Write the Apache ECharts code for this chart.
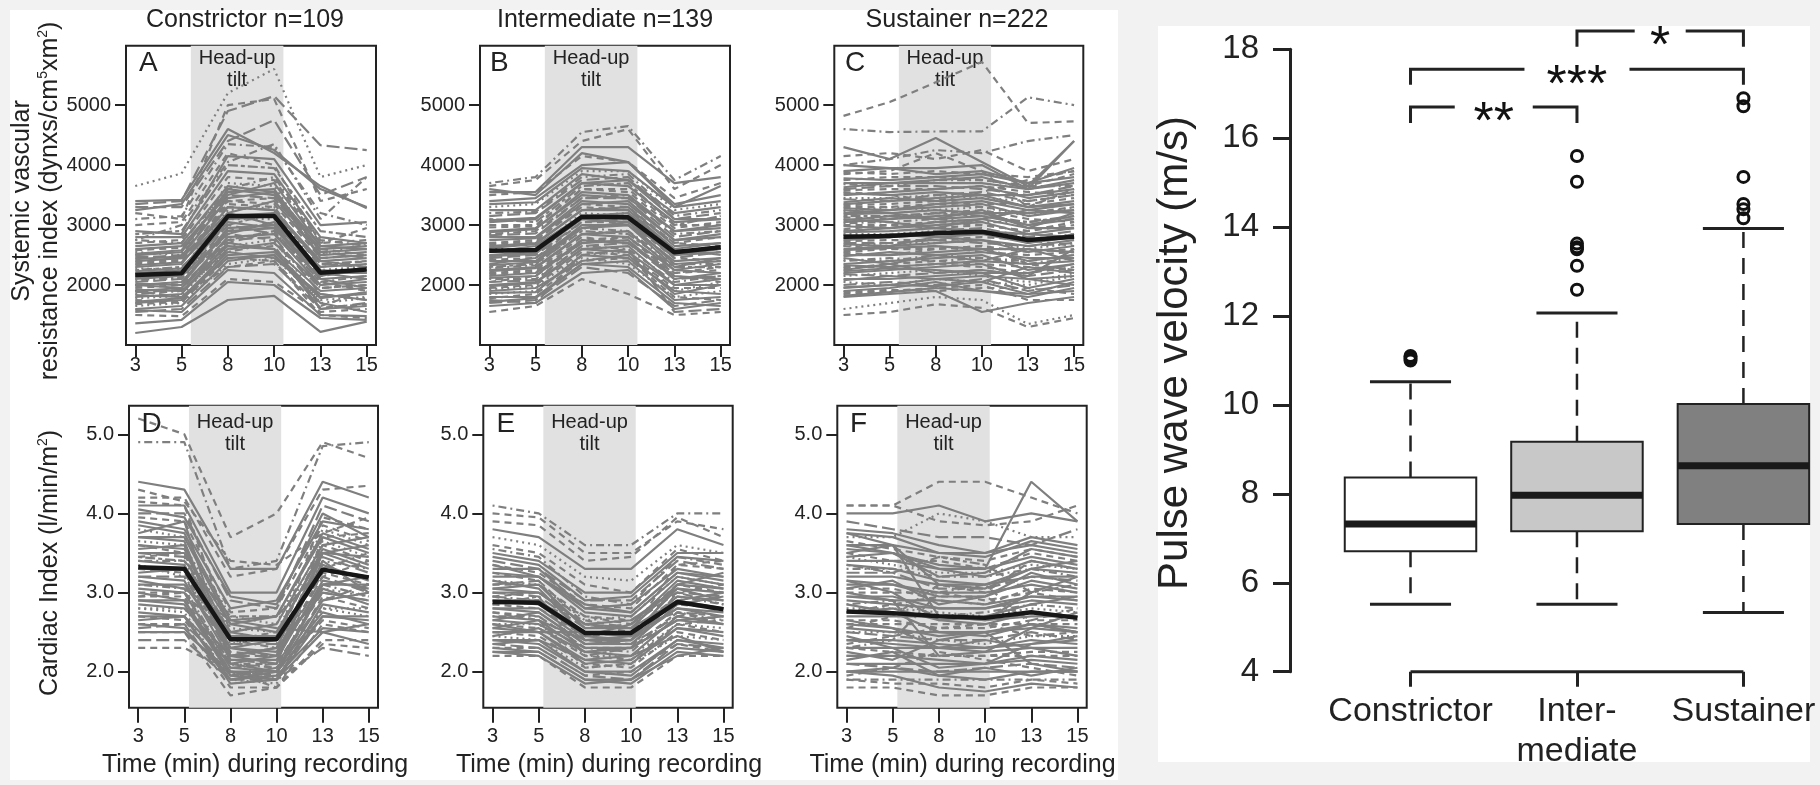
<!DOCTYPE html>
<html><head><meta charset="utf-8">
<script src="https://cdn.jsdelivr.net/npm/echarts@6/dist/echarts.min.js"></script>
<style>
html,body{margin:0;padding:0;background:#f2f2f2;}
#wrap{position:relative;width:1820px;height:785px;overflow:hidden;}
.pane{position:absolute;background:#fff;}
#chart{position:absolute;left:0;top:0;width:1820px;height:785px;}
</style></head><body>
<div id="wrap">
<div class="pane" style="left:10px;top:10px;width:1108px;height:770px"></div>
<div class="pane" style="left:1158px;top:26px;width:652px;height:736px"></div>
<div id="chart"></div>
</div>
<script>
// ---------- DATA ----------
const timeLabels = ['3','5','8','10','13','15'];
const svriTicks = [2000,3000,4000,5000];
const ciTicks = [2,3,4,5];
const panelTitles = ['Constrictor n=109','Intermediate n=139','Sustainer n=222'];
const panelLetters = ['A','B','C','D','E','F'];

// Systemic vascular resistance index, individual subjects (t=3,5,8,10,13,15)
const svriConstrictor = [
[1200,1300,1750,1820,1220,1390],[1360,1420,2050,2000,1450,1420],[1500,1480,2100,2050,1550,1600],
[1550,1600,2300,2350,1600,1700],[1600,1650,2400,2500,1700,1550],[1650,1700,2350,2450,1750,1800],
[1700,1750,2500,2550,1800,1850],[1750,1700,2600,2650,1650,1900],[1800,1850,2700,2600,1900,1950],
[1850,1900,2550,2700,1950,2000],[1900,1950,2800,2850,2000,2100],[1950,2000,2700,2900,2050,1900],
[2000,2050,2900,2950,2100,2150],[2050,2100,3000,2850,2150,2250],[2100,2150,2850,3050,2200,2200],
[2150,2100,3100,3100,2250,2300],[2200,2250,3200,3000,2300,2350],[2250,2300,3000,3200,2350,2400],
[2300,2350,3300,3250,2400,2300],[2350,2400,3400,3350,2450,2500],[2400,2450,3200,3400,2500,2550],
[2450,2500,3500,3450,2550,2450],[2500,2550,3600,3500,2600,2650],[2550,2500,3700,3650,2500,2700],
[2600,2650,3500,3700,2650,2600],[2700,2750,3800,3750,2700,2750],[2800,2800,3900,3850,2800,2700],
[2850,2900,4000,3950,2900,2800],[2900,2850,4150,4100,3000,3050],[3000,3050,4200,4000,2700,2950],
[3100,3150,4350,4300,3200,3000],[3250,3350,4500,4250,3600,3300],[3400,3420,4600,4200,3650,3280],
[3300,3300,4400,4750,3500,3800],[3350,3400,4900,5150,4330,4250],[3650,3860,5200,5600,3800,4000],
[3200,3100,5000,5100,3400,3600],[2750,3000,4050,4350,3100,3800],[1900,1800,2300,2400,1500,1450],
[2000,1950,2650,2600,1600,1650],
[1580,1550,2250,2200,1500,1480],[1680,1720,2450,2400,1620,1680],[1720,1780,2550,2450,1850,1750],
[1780,1820,2650,2750,1700,1780],[1830,1800,2450,2500,1780,1880],[1880,1920,2750,2800,1850,1750],
[1920,1900,2600,2700,2000,2050],[1980,2050,2850,2750,1950,2000],[2020,2000,2950,3000,2100,1950],
[2080,2120,2750,2900,2050,2150],[2120,2180,3050,2950,2200,2100],[2180,2200,2900,3050,2150,2300],
[2230,2280,3100,3150,2250,2200],[2280,2250,3250,3300,2200,2350],[2330,2380,3150,3200,2400,2450],
[2380,2420,3350,3300,2300,2400],[2430,2480,3450,3550,2450,2500],[2480,2450,3300,3250,2350,2300],
[2520,2580,3550,3600,2550,2600],[2580,2620,3400,3450,2600,2500],[2650,2700,3650,3550,2650,2700],
[2750,2700,3600,3800,2750,2650]];
const svriConstrictorDash = 'ssdlsosdsasdslsostsdslsosdstsdassllodads' + 'sdsoslsdsasdsosdslsdsa';

const svriIntermediate = [
[1550,1650,2100,1850,1500,1550],[1650,1700,2200,2250,1600,1700],[1700,1750,2300,2200,1650,1750],
[1800,1800,2350,2400,1750,1800],[1850,1900,2450,2350,1800,1900],[1900,1950,2400,2500,1850,2000],
[1950,2000,2550,2500,1950,1950],[2000,2050,2600,2650,2000,2100],[2100,2100,2650,2600,2050,2150],
[2150,2200,2700,2750,2100,2200],[2200,2250,2800,2700,2200,2250],[2250,2300,2850,2900,2250,2350],
[2300,2350,2900,2850,2300,2300],[2400,2400,3000,3000,2400,2450],[2450,2500,3050,3100,2450,2550],
[2500,2550,3100,3050,2500,2600],[2600,2600,3200,3150,2550,2650],[2650,2700,3250,3300,2650,2700],
[2700,2750,3300,3250,2700,2800],[2800,2800,3400,3350,2750,2850],[2850,2900,3450,3500,2850,2900],
[2900,2950,3500,3450,2900,3000],[3000,3000,3600,3550,2950,3050],[3050,3100,3700,3650,3050,3100],
[3150,3200,3750,3800,3100,3200],[3250,3250,3850,3750,3200,3300],[3300,3350,3900,3900,3250,3350],
[3400,3450,4000,4050,3350,3500],[3500,3550,4150,4050,3450,3700],[3550,3550,4300,4300,3700,3800],
[3650,3750,4400,4600,3600,4000],[3700,3800,4550,4650,3750,4150],[3600,3500,4200,4050,3300,3650],
[2350,2450,2950,3050,2350,2400],[2050,2150,2700,2800,2150,2050],[1750,1700,2500,2600,1550,1600],
[2550,2650,3150,3200,2600,2500],[3100,3050,3650,3700,3000,3150],
[1720,1780,2350,2300,1700,1650],[1780,1850,2400,2450,1800,1750],[1870,1880,2500,2450,1900,1850],
[1930,1980,2500,2550,1900,2050],[1980,2030,2600,2550,2000,2000],[2050,2080,2650,2700,2100,2150],
[2120,2150,2750,2700,2150,2100],[2180,2220,2750,2800,2200,2300],[2230,2280,2850,2800,2250,2200],
[2280,2330,2950,2900,2350,2350],[2330,2380,2950,3000,2300,2450],[2420,2450,3050,3050,2450,2400],
[2480,2520,3150,3100,2500,2550],[2560,2580,3150,3200,2550,2600],[2620,2680,3250,3250,2600,2700],
[2680,2720,3350,3300,2700,2650],[2750,2780,3350,3400,2750,2800],[2830,2860,3450,3450,2800,2900],
[2880,2930,3550,3500,2900,2950],[2960,2980,3600,3600,3000,3000],[3080,3120,3700,3750,3100,3100],
[3200,3220,3800,3850,3150,3250],[3350,3380,3950,3900,3300,3400]];
const svriIntermediateDash = 'dslsosdsasdstslsosdsasdslsosdsdassdlst' + 'sdsoslsdsasdsosdslsdsas';

const svriSustainer = [
[1500,1550,1680,1620,1300,1450],[1600,1700,1800,1750,1350,1500],[1800,1850,1900,1550,1700,1800],
[1850,1900,1950,2000,1750,1750],[1900,1950,2050,1900,1800,1950],[2000,2050,2000,2100,1900,2000],
[2100,2100,2150,2200,1950,2100],[2150,2200,2250,2150,2050,2200],[2200,2250,2300,2350,2100,2150],
[2300,2300,2350,2300,2200,2300],[2350,2400,2450,2500,2250,2350],[2400,2450,2400,2450,2350,2450],
[2500,2500,2550,2600,2400,2500],[2550,2600,2650,2550,2500,2550],[2600,2650,2700,2750,2550,2650],
[2700,2700,2750,2700,2650,2700],[2750,2800,2850,2900,2700,2800],[2850,2850,2900,2850,2750,2850],
[2900,2950,3000,3050,2850,2950],[3000,3000,3050,3000,2900,3000],[3050,3100,3150,3200,3000,3100],
[3150,3150,3200,3150,3050,3150],[3200,3250,3300,3350,3150,3250],[3300,3300,3350,3300,3200,3300],
[3350,3400,3450,3500,3300,3400],[3450,3450,3500,3450,3400,3500],[3500,3550,3600,3650,3450,3550],
[3600,3650,3650,3600,3500,3650],[3700,3700,3750,3800,3600,3700],[3750,3800,3800,3750,3650,3850],
[3900,3950,3850,3900,3700,3950],[4000,3950,3950,4000,3600,4400],[4300,4100,4450,4050,3650,4400],
[4150,4200,4100,4250,3900,4100],[4000,4100,4250,4200,4400,4500],[4820,5050,5380,5720,4700,4730],
[4600,4550,4560,4560,5130,5000],[3850,3900,4200,3900,3300,3600],[2250,2350,2200,2250,2150,2600],
[2650,2600,2600,2650,2350,2250],[3100,3050,2950,3100,3250,3350],[2450,2350,2500,2400,2600,2400],
[3550,3500,3400,3550,3750,3900],[1950,2000,2100,2050,2300,2200],[3250,3200,3100,3250,2950,3200],
[1820,1880,1950,1900,1850,1900],[1880,1920,1900,1950,1950,1850],[1960,2000,1980,2050,1850,2050],
[2050,2000,2100,2050,2000,2150],[2080,2150,2100,2150,2100,2000],[2180,2150,2200,2250,2150,2250],
[2230,2280,2250,2200,2200,2350],[2280,2350,2400,2350,2300,2250],[2330,2300,2350,2400,2350,2400],
[2420,2400,2500,2450,2400,2500],[2480,2550,2500,2550,2450,2450],[2530,2500,2600,2650,2550,2600],
[2580,2620,2650,2600,2600,2550],[2650,2700,2700,2750,2600,2700],[2680,2650,2800,2750,2650,2750],
[2730,2750,2750,2800,2750,2650],[2780,2850,2800,2850,2700,2850],[2830,2800,2900,2950,2800,2900],
[2880,2900,2950,2900,2850,2800],[2930,3000,2950,3000,2900,3050],[2980,2950,3050,3100,2950,2950],
[3030,3050,3100,3050,3050,3100],[3080,3150,3100,3150,3000,3150],[3130,3100,3200,3250,3100,3050],
[3180,3200,3250,3200,3200,3250],[3230,3300,3250,3300,3150,3300],[3280,3250,3350,3400,3250,3200],
[3330,3350,3400,3350,3350,3450],[3380,3450,3400,3450,3300,3350],[3430,3400,3500,3550,3400,3500],
[3530,3500,3550,3500,3500,3600],[3580,3600,3600,3650,3550,3500],[3630,3700,3700,3700,3600,3750],
[3680,3650,3750,3750,3650,3650],[3780,3750,3800,3850,3700,3800],[3880,3850,3900,3850,3800,3900]];
const svriSustainerDash = 'dosdslsosdsasdslsosdstsdsoslsdsssdadadsdssdss' + 'sdsoslsdsasdsosdslsdsasdsosdslsdsasd';

// Cardiac index, individual subjects
const ciConstrictor = [
[5.2,5.0,3.7,4.0,4.9,4.7],[4.9,4.9,3.3,3.4,4.85,4.9],[4.4,4.3,3.3,3.3,4.4,4.2],[4.2,4.2,3.2,3.3,4.3,4.35],
[4.1,4.1,3.0,3.0,4.2,4.0],[4.0,4.0,2.9,2.8,4.1,3.9],[3.9,3.8,2.8,2.9,3.9,3.8],[3.8,3.7,2.7,2.6,3.8,3.6],
[3.7,3.7,2.6,2.7,3.7,3.5],[3.6,3.5,2.5,2.4,3.6,3.4],[3.5,3.5,2.6,2.5,3.5,3.6],[3.4,3.4,2.4,2.3,3.4,3.3],
[3.3,3.3,2.3,2.4,3.3,3.2],[3.2,3.2,2.2,2.2,3.2,3.0],[3.1,3.1,2.3,2.2,3.1,3.1],[3.0,3.0,2.1,2.1,3.0,2.9],
[2.9,2.9,2.0,2.0,2.9,3.0],[2.8,2.8,2.1,1.9,2.8,2.8],[2.7,2.7,1.9,2.0,2.7,2.7],[2.6,2.6,1.8,1.8,2.6,2.5],
[2.5,2.5,2.0,1.9,2.5,2.6],[2.5,2.5,1.7,1.8,2.4,2.4],[2.4,2.4,1.9,1.9,2.3,2.2],[2.3,2.3,2.0,1.8,2.35,2.3],
[3.55,3.6,2.2,2.1,3.5,3.3],[3.25,3.3,2.5,2.6,3.6,3.7],[2.95,3.0,2.4,2.5,3.2,3.4],[2.85,2.8,2.2,2.3,3.0,2.9],
[3.45,3.4,2.7,2.7,3.3,3.5],[3.75,3.9,2.1,2.2,3.4,3.0],[2.65,2.7,2.1,2.0,3.1,3.2],[4.15,4.1,2.5,2.4,3.95,3.8],
[3.0,2.9,1.95,2.05,2.75,2.6],[3.35,3.2,2.35,2.45,3.05,2.95],[4.3,4.15,3.4,3.35,3.75,3.95],[3.15,3.05,2.65,2.55,2.5,2.35],
[4.05,3.95,2.95,2.85,4.0,3.7],[3.95,3.9,2.75,2.8,3.85,3.65],[3.85,3.75,2.65,2.7,3.75,3.55],[3.65,3.6,2.55,2.5,3.65,3.45],
[3.6,3.55,2.45,2.45,3.55,3.35],[3.5,3.45,2.35,2.35,3.45,3.25],[3.4,3.35,2.3,2.25,3.35,3.15],[3.3,3.25,2.25,2.2,3.25,3.1],
[3.2,3.15,2.15,2.15,3.15,3.05],[3.1,3.05,2.1,2.05,3.1,2.95],[3.05,3.0,2.05,2.0,3.05,2.85],[2.95,2.95,2.0,1.95,2.95,2.8],
[2.9,2.85,1.95,1.9,2.85,2.75],[2.8,2.75,1.9,1.85,2.8,2.7],[2.75,2.7,1.85,1.9,2.7,2.65],[2.7,2.65,1.95,2.0,2.65,2.55],
[2.6,2.55,1.9,1.95,2.55,2.5],[2.55,2.6,2.05,2.1,2.9,3.1],[3.7,3.65,2.2,2.3,3.5,3.45],[3.45,3.5,2.15,2.1,3.7,3.75]];
const ciConstrictorDash = 'dasdslsosdsaslsdsosdsdldssdstssdsods' + 'sdsoslsdsasdsosdslsd';

const ciIntermediate = [
[4.1,4.0,3.6,3.6,4.0,4.0],[4.0,3.95,3.5,3.5,3.9,3.8],[3.8,3.7,3.3,3.3,3.8,3.6],[3.9,3.85,3.4,3.45,3.95,3.7],
[3.7,3.6,3.2,3.15,3.6,3.5],[3.6,3.5,3.1,3.0,3.55,3.4],[3.5,3.4,3.0,3.0,3.5,3.5],[3.4,3.3,2.9,2.9,3.4,3.3],
[3.3,3.3,2.8,2.85,3.3,3.2],[3.2,3.2,2.75,2.7,3.2,3.1],[3.1,3.1,2.7,2.6,3.1,3.0],[3.0,3.0,2.6,2.65,3.05,2.9],
[2.95,2.9,2.5,2.5,2.95,2.85],[2.9,2.85,2.45,2.4,2.9,2.8],[2.8,2.8,2.4,2.45,2.8,2.75],[2.75,2.7,2.3,2.3,2.75,2.7],
[2.7,2.65,2.25,2.2,2.7,2.6],[2.6,2.6,2.2,2.2,2.6,2.55],[2.55,2.5,2.1,2.15,2.55,2.5],[2.5,2.45,2.1,2.05,2.5,2.4],
[2.4,2.4,2.0,2.0,2.4,2.35],[2.35,2.3,1.95,1.9,2.35,2.3],[2.3,2.25,1.9,1.9,2.3,2.25],[2.2,2.2,1.8,1.8,2.2,2.2],
[2.25,2.2,1.85,1.9,2.2,2.3],[3.05,3.1,2.55,2.55,2.9,3.0],[2.85,2.95,2.2,2.3,3.0,2.85],[2.65,2.75,2.35,2.35,2.85,2.95],
[3.25,3.15,2.6,2.5,3.35,3.4],[2.45,2.55,2.25,2.3,2.65,2.7],[3.35,3.2,2.85,2.75,3.25,3.2],[2.75,2.65,2.05,2.1,2.6,2.65],
[3.55,3.45,2.95,2.85,3.45,3.35],[2.35,2.4,2.15,2.2,2.45,2.25],[3.15,3.05,2.45,2.6,3.15,3.05],[2.95,2.85,2.65,2.55,2.75,2.6],
[2.55,2.65,2.4,2.4,3.1,3.25],
[3.45,3.35,2.9,2.95,3.45,3.4],[3.35,3.25,2.85,2.8,3.35,3.3],[3.25,3.2,2.8,2.75,3.25,3.15],[3.15,3.1,2.65,2.7,3.2,3.1],
[3.05,3.0,2.6,2.55,3.1,3.05],[3.0,2.95,2.55,2.6,3.0,2.95],[2.9,2.9,2.5,2.45,2.95,2.9],[2.85,2.8,2.45,2.5,2.85,2.8],
[2.8,2.75,2.35,2.4,2.8,2.7],[2.7,2.7,2.3,2.25,2.75,2.65],[2.65,2.6,2.3,2.3,2.65,2.6],[2.6,2.55,2.2,2.15,2.6,2.5],
[2.5,2.5,2.15,2.1,2.55,2.45],[2.45,2.4,2.05,2.1,2.45,2.4],[2.4,2.35,2.0,1.95,2.4,2.3],[2.3,2.3,1.95,2.0,2.35,2.25],
[2.25,2.25,1.9,1.85,2.25,2.2],[3.1,3.15,2.4,2.35,2.7,2.8],[2.6,2.5,2.5,2.45,3.05,3.0],[2.95,3.0,2.7,2.65,3.0,3.1]];
const ciIntermediateDash = 'adsdodslssdsassdsosdslsdsstsdssdassds' + 'sdsoslsdsasdsosdslsd';

const ciSustainer = [
[4.1,4.1,4.4,4.4,4.2,4.0],[4.0,4.0,4.1,3.9,4.0,3.9],[3.6,3.5,3.3,3.3,4.4,3.9],[4.1,4.1,3.9,3.85,3.9,4.1],
[3.9,3.8,3.7,3.7,3.6,3.8],[3.8,3.75,3.6,3.5,3.7,3.6],[3.7,3.7,4.0,3.9,3.7,3.7],[3.6,3.6,3.5,3.5,3.6,3.5],
[3.5,3.4,3.4,3.3,3.5,3.4],[3.4,3.4,3.3,3.2,3.4,3.3],[3.3,3.3,3.2,3.2,3.3,3.2],[3.2,3.2,3.1,3.1,3.2,3.2],
[3.1,3.1,3.0,3.0,3.1,3.0],[3.0,3.0,3.0,2.9,3.0,2.9],[2.95,2.9,2.9,2.85,2.95,2.9],[2.9,2.85,2.8,2.8,2.9,2.85],
[2.8,2.8,2.75,2.7,2.8,2.75],[2.7,2.7,2.7,2.65,2.7,2.7],[2.6,2.6,2.6,2.6,2.6,2.6],[2.55,2.5,2.5,2.5,2.55,2.5],
[2.5,2.45,2.4,2.4,2.5,2.4],[2.4,2.4,2.35,2.3,2.4,2.35],[2.3,2.3,2.3,2.25,2.3,2.3],[2.2,2.2,2.2,2.2,2.2,2.2],
[2.1,2.1,2.1,2.1,2.15,2.1],[2.0,2.0,2.0,2.0,2.0,2.0],[1.9,1.9,1.9,1.9,1.9,1.9],[1.8,1.8,1.7,1.7,1.8,1.8],
[2.0,1.95,1.8,1.75,1.85,1.8],[2.85,2.75,2.5,2.45,2.6,2.5],[2.35,2.45,2.55,2.6,2.45,2.5],[3.05,3.15,2.85,2.95,3.25,3.1],
[2.65,2.55,2.3,2.4,2.3,2.2],[3.35,3.25,3.45,3.35,3.0,3.1],[2.25,2.15,2.4,2.5,2.1,2.0],[3.75,3.6,3.1,3.05,3.3,3.4],
[2.75,2.85,2.95,2.95,2.65,2.8],[2.45,2.3,2.05,2.1,2.35,2.45],[3.15,3.0,2.65,2.7,2.85,2.95],[1.95,2.05,2.25,2.15,2.05,1.95],
[3.45,3.5,3.2,3.25,3.55,3.45],[2.15,2.25,1.95,2.05,1.95,2.05],
[3.75,3.7,3.5,3.45,3.65,3.55],[3.65,3.55,3.45,3.4,3.55,3.45],[3.55,3.5,3.35,3.3,3.45,3.35],[3.45,3.35,3.25,3.25,3.35,3.3],
[3.35,3.3,3.15,3.1,3.3,3.25],[3.25,3.25,3.05,3.05,3.2,3.15],[3.15,3.1,2.95,2.95,3.15,3.05],[3.05,3.05,2.9,2.85,3.05,3.0],
[2.95,2.95,2.8,2.8,2.95,2.95],[2.85,2.9,2.7,2.75,2.85,2.8],[2.75,2.8,2.65,2.6,2.75,2.7],[2.65,2.65,2.55,2.55,2.65,2.65],
[2.6,2.55,2.45,2.5,2.6,2.55],[2.5,2.5,2.4,2.35,2.45,2.45],[2.4,2.35,2.3,2.3,2.35,2.4],[2.3,2.25,2.2,2.2,2.25,2.25],
[2.2,2.2,2.15,2.1,2.2,2.15],[2.1,2.05,2.0,2.05,2.1,2.05],[2.0,2.05,1.95,1.9,2.0,2.0],[1.9,1.85,1.85,1.8,1.9,1.85],
[3.5,3.6,2.7,2.65,3.0,3.2],[2.3,2.4,3.0,3.1,2.6,2.5],[3.0,2.9,2.2,2.25,2.55,2.75],[2.55,2.7,3.1,3.0,3.4,3.3]];
const ciSustainerDash = 'dssdlsosdsassdssosdslssdssadssdsstssdssdss' + 'sdsoslsdsasdsosdslsdsasd';

// group means
const svriConstrictorMean = [2167,2195,3150,3150,2205,2260];
const svriIntermediateMean = [2572,2583,3138,3128,2545,2628];
const svriSustainerMean = [2805,2817,2862,2888,2750,2805];
const ciConstrictorMean = [3.32,3.30,2.41,2.41,3.29,3.19];
const ciIntermediateMean = [2.88,2.87,2.49,2.49,2.88,2.79];
const ciSustainerMean = [2.76,2.74,2.70,2.68,2.75,2.68];

// Pulse wave velocity boxplot
const boxCategories = ['Constrictor','Inter-\nmediate','Sustainer'];
const boxStats = [ // [lower whisker, Q1, median, Q3, upper whisker]
  [5.52,6.71,7.32,8.37,10.52],
  [5.52,7.16,7.97,9.17,12.07],
  [5.33,7.32,8.63,10.02,13.97]];
const outliersConstrictor = [11.1,11.05,11.0];
const outliersIntermediate = [15.6,15.02,13.63,13.55,13.5,13.13,12.59];
const outliersSustainer = [16.9,16.72,15.13,14.52,14.4,14.2];
const pwvTicks = [4,6,8,10,12,14,16,18];
const sigBrackets = [ // [group a, group b, label, bar level, leg end]
  [1,2,'**',16.70,16.34],
  [1,3,'***',17.55,17.20],
  [2,3,'*',18.41,18.06]];

// ---------- STYLE / LAYOUT ----------
const FONT = 'Liberation Sans, Arial, Helvetica, sans-serif';
const ink = '#222';
const grayLine = '#7f7f7f';
const dashMap = {s:'solid', d:[7,5], o:[2,4], a:[2,4,8,4], l:[13,5], t:[4,3,10,3]};
const boxFills = ['#ffffff','#c8c8c8','#808080'];

const panels = [
 {lines:svriConstrictor, dash:svriConstrictorDash, mean:svriConstrictorMean, left:126, top:45.7, width:250, height:299.3, yMin:1000, yMax:5990, ticks:svriTicks, shade:[2.2,4.2], tickLen:12, xMargin:10, shadeDist:2, fmt:v=>String(Math.round(v))},
 {lines:svriIntermediate, dash:svriIntermediateDash, mean:svriIntermediateMean, left:480, top:45.7, width:250, height:299.3, yMin:1000, yMax:5990, ticks:svriTicks, shade:[2.2,4.2], tickLen:12, xMargin:10, shadeDist:2, fmt:v=>String(Math.round(v))},
 {lines:svriSustainer, dash:svriSustainerDash, mean:svriSustainerMean, left:834.3, top:45.7, width:249, height:299.3, yMin:1000, yMax:5990, ticks:svriTicks, shade:[2.2,4.2], tickLen:12, xMargin:10, shadeDist:2, fmt:v=>String(Math.round(v))},
 {lines:ciConstrictor, dash:ciConstrictorDash, mean:ciConstrictorMean, left:129, top:405.7, width:249, height:302, yMin:1.545, yMax:5.361, ticks:ciTicks, shade:[2.1,4.1], tickLen:15, xMargin:19, shadeDist:5.5, fmt:v=>v.toFixed(1)},
 {lines:ciIntermediate, dash:ciIntermediateDash, mean:ciIntermediateMean, left:483.3, top:405.7, width:249.4, height:302, yMin:1.545, yMax:5.361, ticks:ciTicks, shade:[2.1,4.1], tickLen:15, xMargin:19, shadeDist:5.5, fmt:v=>v.toFixed(1)},
 {lines:ciSustainer, dash:ciSustainerDash, mean:ciSustainerMean, left:837.3, top:405.7, width:249.4, height:302, yMin:1.545, yMax:5.361, ticks:ciTicks, shade:[2.1,4.1], tickLen:15, xMargin:19, shadeDist:5.5, fmt:v=>v.toFixed(1)}
];

const grids = [], xAxes = [], yAxes = [], series = [];
const xPos = timeLabels.map((t,i)=>i+1);

panels.forEach((p, pi) => {
  grids.push({left:p.left, top:p.top, width:p.width, height:p.height, show:true, borderColor:ink, borderWidth:2, backgroundColor:'transparent'});
  xAxes.push({gridIndex:pi, type:'value', min:0.8, max:6.2,
    axisLine:{show:false}, splitLine:{show:false},
    axisTick:{show:true, customValues:xPos, length:p.tickLen, lineStyle:{color:ink, width:2}},
    axisLabel:{show:true, customValues:xPos, margin:p.xMargin, fontSize:20, color:ink, fontFamily:FONT, formatter:v=>timeLabels[Math.round(v)-1]}});
  yAxes.push({gridIndex:pi, type:'value', min:p.yMin, max:p.yMax,
    axisLine:{show:false}, splitLine:{show:false},
    axisTick:{show:true, customValues:p.ticks, length:11, lineStyle:{color:ink, width:2}},
    axisLabel:{show:true, customValues:p.ticks, margin:15, fontSize:20, color:ink, fontFamily:FONT, formatter:p.fmt}});
  // shaded head-up tilt period
  series.push({type:'line', xAxisIndex:pi, yAxisIndex:pi, data:[], z:1, silent:true, animation:false,
    markArea:{silent:true, itemStyle:{color:'#e1e1e1'},
      label:{show:true, position:'insideTop', distance:p.shadeDist, formatter:'Head-up\ntilt', fontSize:20, lineHeight:22, color:ink, fontFamily:FONT},
      data:[[{xAxis:p.shade[0]},{xAxis:p.shade[1]}]]}});
  p.lines.forEach((vals, li) => {
    series.push({type:'line', xAxisIndex:pi, yAxisIndex:pi, z:2, silent:true, animation:false,
      symbol:'none', showSymbol:false,
      lineStyle:{color:grayLine, width:2.2, type:dashMap[p.dash[li]] || 'solid'},
      data: vals.map((v,k)=>[xPos[k], v])});
  });
  series.push({type:'line', xAxisIndex:pi, yAxisIndex:pi, z:5, silent:true, animation:false,
    symbol:'none', showSymbol:false, lineStyle:{color:'#161616', width:4.5},
    data: p.mean.map((v,k)=>[xPos[k], v])});
});

// Boxplot grid
const bi = panels.length;
const catPos = boxCategories.map((c,i)=>i+1);
grids.push({left:1290, top:49.3, width:520, height:622.4, show:false});
xAxes.push({gridIndex:bi, type:'value', min:0.276, max:3.4,
  axisLine:{show:false}, splitLine:{show:false},
  axisTick:{show:true, customValues:catPos, length:15, lineStyle:{color:ink, width:3}},
  axisLabel:{show:true, customValues:catPos, margin:20, fontSize:34, lineHeight:40, color:ink, fontFamily:FONT, formatter:v=>boxCategories[Math.round(v)-1]}});
yAxes.push({gridIndex:bi, type:'value', min:4, max:18, interval:2,
  axisLine:{show:true, lineStyle:{color:ink, width:3}}, splitLine:{show:false},
  axisTick:{show:true, length:17, lineStyle:{color:ink, width:3}},
  axisLabel:{show:true, margin:31, fontSize:33, color:ink, fontFamily:FONT}});

series.push({type:'line', xAxisIndex:bi, yAxisIndex:bi, clip:false, silent:true, animation:false, symbol:'none',
  lineStyle:{color:ink, width:3}, data:[[catPos[0],4],[catPos[catPos.length-1],4]]});

series.push({type:'custom', xAxisIndex:bi, yAxisIndex:bi, silent:true, animation:false, z:3,
  data: boxStats.map((s,i)=>[catPos[i]].concat(s)),
  encode:{x:0, y:[1,2,3,4,5]},
  renderItem: function(params, api){
    const x = api.value(0);
    const mn = api.coord([x, api.value(1)]);
    const q1 = api.coord([x, api.value(2)]);
    const md = api.coord([x, api.value(3)]);
    const q3 = api.coord([x, api.value(4)]);
    const mx = api.coord([x, api.value(5)]);
    const bw = api.size([0.79, 0])[0];
    const cw = api.size([0.487, 0])[0];
    const cx = q1[0];
    const dashS = {stroke:ink, lineWidth:2.5, lineDash:[16,10]};
    return {type:'group', children:[
      {type:'line', shape:{x1:cx,y1:q3[1],x2:cx,y2:mx[1]}, style:dashS},
      {type:'line', shape:{x1:cx,y1:q1[1],x2:cx,y2:mn[1]}, style:dashS},
      {type:'line', shape:{x1:cx-cw/2,y1:mx[1],x2:cx+cw/2,y2:mx[1]}, style:{stroke:ink, lineWidth:3}},
      {type:'line', shape:{x1:cx-cw/2,y1:mn[1],x2:cx+cw/2,y2:mn[1]}, style:{stroke:ink, lineWidth:3}},
      {type:'rect', shape:{x:cx-bw/2, y:q3[1], width:bw, height:q1[1]-q3[1]}, style:{fill:boxFills[params.dataIndex], stroke:ink, lineWidth:2}},
      {type:'line', shape:{x1:cx-bw/2,y1:md[1],x2:cx+bw/2,y2:md[1]}, style:{stroke:'#1a1a1a', lineWidth:7}}
    ]};
  }});

const outlierData = [];
[outliersConstrictor, outliersIntermediate, outliersSustainer].forEach((arr,i)=>arr.forEach(v=>outlierData.push([catPos[i], v])));
series.push({type:'scatter', xAxisIndex:bi, yAxisIndex:bi, silent:true, animation:false, z:4, clip:false,
  symbol:'circle', symbolSize:11, itemStyle:{color:'rgba(0,0,0,0)', borderColor:'#111', borderWidth:3, opacity:1},
  data:outlierData});

series.push({type:'custom', xAxisIndex:bi, yAxisIndex:bi, silent:true, animation:false, z:4, clip:false,
  data: sigBrackets.map(b=>[b[0], b[3]]),
  renderItem: function(params, api){
    const b = sigBrackets[params.dataIndex];
    const p1 = api.coord([b[0], b[3]]), p2 = api.coord([b[1], b[3]]);
    const leg = api.coord([b[0], b[4]])[1];
    const mid = (p1[0]+p2[0])/2;
    const hg = 12 + 13.5*b[2].length;
    const st = {stroke:ink, lineWidth:3, fill:'none'};
    return {type:'group', children:[
      {type:'polyline', shape:{points:[[p1[0],leg],[p1[0],p1[1]],[mid-hg,p1[1]]]}, style:st},
      {type:'polyline', shape:{points:[[mid+hg,p1[1]],[p2[0],p1[1]],[p2[0],leg]]}, style:st},
      {type:'text', style:{text:b[2], x:mid, y:p1[1]+17, align:'center', verticalAlign:'middle', fontSize:52, fontFamily:FONT, fill:'#111'}}
    ]};
  }});

// ---------- TEXT ----------
const txt = (text, x, y, size, extra) => Object.assign({type:'text', x:x, y:y, z:100, silent:true,
  style:{text:text, fontSize:size, fontFamily:FONT, fill:ink, align:'center', verticalAlign:'middle'}}, extra||{});
const graphics = [];
[[245,20],[605,20],[957,20]].forEach((pos,i)=>graphics.push(txt(panelTitles[i], pos[0], pos[1], 25)));
[[139,63],[490,63],[845,63],[141.5,424],[496.5,424],[850,424]].forEach((pos,i)=>{
  const g = txt(panelLetters[i], pos[0], pos[1], 28); g.style.align='left'; graphics.push(g);});
[255,609,962.5].forEach(x=>graphics.push(txt('Time (min) during recording', x, 765, 25)));
graphics.push({type:'text', x:36, y:201, rotation:Math.PI/2, z:100, silent:true,
  style:{text:'Systemic vascular\n{n|resistance index (dynxs/cm}{s|5}{n|xm}{s|2}{n|)}', fontSize:25, lineHeight:28, fontFamily:FONT, fill:ink, align:'center', verticalAlign:'middle',
    rich:{n:{fontSize:25, lineHeight:28, fontFamily:FONT, fill:ink}, s:{fontSize:14, lineHeight:14, verticalAlign:'top', fontFamily:FONT, fill:ink}}}});
graphics.push({type:'text', x:50, y:563, rotation:Math.PI/2, z:100, silent:true,
  style:{text:'{n|Cardiac Index (l/min/m}{s|2}{n|)}', fontSize:25, lineHeight:28, fontFamily:FONT, fill:ink, align:'center', verticalAlign:'middle',
    rich:{n:{fontSize:25, lineHeight:28, fontFamily:FONT, fill:ink}, s:{fontSize:14, lineHeight:14, verticalAlign:'top', fontFamily:FONT, fill:ink}}}});
graphics.push(Object.assign(txt('Pulse wave velocity (m/s)', 1175, 353, 42), {rotation:Math.PI/2}));

const chart = echarts.init(document.getElementById('chart'), null, {renderer:'canvas'});
chart.setOption({
  backgroundColor:'transparent',
  animation:false,
  textStyle:{fontFamily:FONT},
  grid:grids, xAxis:xAxes, yAxis:yAxes, series:series, graphic:graphics
});
</script>
</body></html>
